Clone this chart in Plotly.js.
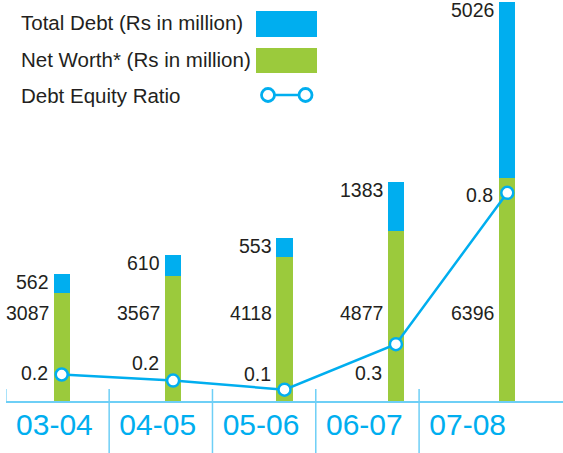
<!DOCTYPE html>
<html>
<head>
<meta charset="utf-8">
<script src="https://cdn.plot.ly/plotly-3.0.1.min.js"></script>
<style>html,body{margin:0;padding:0;background:#fff;}#chart{width:563px;height:453px;}</style>
</head>
<body>
<div id="chart"></div>
<script>
// ---- data ----
var years = ['03-04', '04-05', '05-06', '06-07', '07-08'];
var netWorth = [3087, 3567, 4118, 4877, 6396];
var totalDebt = [562, 610, 553, 1383, 5026];
var debtEquity = [0.18, 0.16, 0.13, 0.28, 0.78];
var debtEquityLabels = ['0.2', '0.2', '0.1', '0.3', '0.8'];

var seriesNames = ['Total Debt (Rs in million)', 'Net Worth* (Rs in million)', 'Debt Equity Ratio'];

// ---- styles ----
var BLUE = '#00AEEF';
var GREEN = '#9BCA3C';
var AXIS = '#6ECFF6';
var TXT = '#231F20';
var FONT = 'Liberation Sans, Arial, sans-serif';

var W = 563, H = 453, ML = 6, MR = 0, MT = 2, MB = 52;
function px(x) { return (x - ML) / (W - ML - MR); }
function py(y) { return (H - MB - y) / (H - MT - MB); }

var idx = years.map(function (_, i) { return i; });
var totals = netWorth.map(function (v, i) { return v + totalDebt[i]; });

var traces = [
  { type: 'bar', x: years, y: netWorth, name: seriesNames[1], marker: { color: GREEN }, width: 0.145, hoverinfo: 'skip', showlegend: false },
  { type: 'bar', x: years, y: totalDebt, name: seriesNames[0], marker: { color: BLUE }, width: 0.145, hoverinfo: 'skip', showlegend: false },
  { type: 'scatter', mode: 'lines+markers', x: years, y: debtEquity, yaxis: 'y2', name: seriesNames[2],
    line: { color: BLUE, width: 2.5 },
    marker: { size: 12, color: '#ffffff', line: { color: BLUE, width: 2.5 } },
    cliponaxis: false, hoverinfo: 'skip', showlegend: false },
  { type: 'scatter', mode: 'markers', x: idx, y: idx.map(function () { return null; }), xaxis: 'x2', showlegend: false, hoverinfo: 'skip' }
];

var annotations = [];
var labFont = { family: FONT, size: 19.5, color: TXT };
years.forEach(function (yr, i) {
  annotations.push({ x: yr, y: totals[i], xref: 'x', yref: 'y', text: String(totalDebt[i]), showarrow: false,
    xanchor: 'right', yanchor: 'middle', xshift: -11, yshift: -8, font: labFont });
  annotations.push({ x: yr, y: py(312.7), xref: 'x', yref: 'paper', text: String(netWorth[i]), showarrow: false,
    xanchor: 'right', yanchor: 'middle', xshift: -11, font: labFont });
});
var ratioShift = [2, 18, 16, -29, -2];
years.forEach(function (yr, i) {
  annotations.push({ x: yr, y: debtEquity[i], xref: 'x', yref: 'y2', text: debtEquityLabels[i], showarrow: false,
    xanchor: 'right', yanchor: 'middle', xshift: -12, yshift: ratioShift[i], font: labFont });
});

// legend (manual)
var legFont = { family: FONT, size: 20.5, color: TXT };
var legY = [22, 59, 95];
seriesNames.forEach(function (n, i) {
  annotations.push({ x: px(19), y: py(legY[i]), xref: 'paper', yref: 'paper', text: n, showarrow: false,
    xanchor: 'left', yanchor: 'middle', font: legFont });
});

var shapes = [
  { type: 'rect', xref: 'paper', yref: 'paper', x0: px(256), x1: px(317), y0: py(11), y1: py(37), fillcolor: BLUE, line: { width: 0 } },
  { type: 'rect', xref: 'paper', yref: 'paper', x0: px(256), x1: px(317), y0: py(48), y1: py(73), fillcolor: GREEN, line: { width: 0 } },
  { type: 'line', xref: 'paper', yref: 'paper', x0: px(268), x1: px(305.5), y0: py(95), y1: py(95), line: { color: BLUE, width: 2.5 } },
  { type: 'circle', xref: 'paper', yref: 'paper', x0: px(261.5), x1: px(274.5), y0: py(88.5), y1: py(101.5), fillcolor: '#fff', line: { color: BLUE, width: 2.8 } },
  { type: 'circle', xref: 'paper', yref: 'paper', x0: px(299), x1: px(312), y0: py(88.5), y1: py(101.5), fillcolor: '#fff', line: { color: BLUE, width: 2.8 } }
];
// separators between year labels
for (var k = 0; k < years.length; k++) {
  shapes.push({ type: 'line', xref: 'x2', yref: 'paper', x0: k - 0.5, x1: k - 0.5,
    y0: py(389), y1: k === 0 ? 0 : py(453), line: { color: AXIS, width: 1.5 }, layer: 'below' });
}

var layout = {
  width: W, height: H,
  margin: { l: ML, r: MR, t: MT, b: MB, pad: 0 },
  paper_bgcolor: '#fff', plot_bgcolor: '#fff',
  barmode: 'stack',
  showlegend: false,
  xaxis: { type: 'category', range: [-0.5, 4.5], showticklabels: false, ticks: '', showgrid: false, zeroline: false,
    showline: true, linecolor: AXIS, linewidth: 1.5, fixedrange: true },
  xaxis2: { type: 'linear', overlaying: 'x', side: 'bottom', anchor: 'y', range: [-0.4985, 4.893],
    tickvals: idx.map(function (i) { return i - 0.03; }), ticktext: years, ticks: '', showgrid: false, zeroline: false, showline: false,
    tickfont: { family: FONT, size: 30, color: BLUE }, ticklabelstandoff: 3 },
  yaxis: { range: [0, 11422], visible: false, showgrid: false, zeroline: false, fixedrange: true },
  yaxis2: { overlaying: 'y', range: [0.0925, 1.41], visible: false, showgrid: false, zeroline: false },
  annotations: annotations,
  shapes: shapes
};

Plotly.newPlot('chart', traces, layout, { staticPlot: true, displayModeBar: false });
</script>
</body>
</html>
